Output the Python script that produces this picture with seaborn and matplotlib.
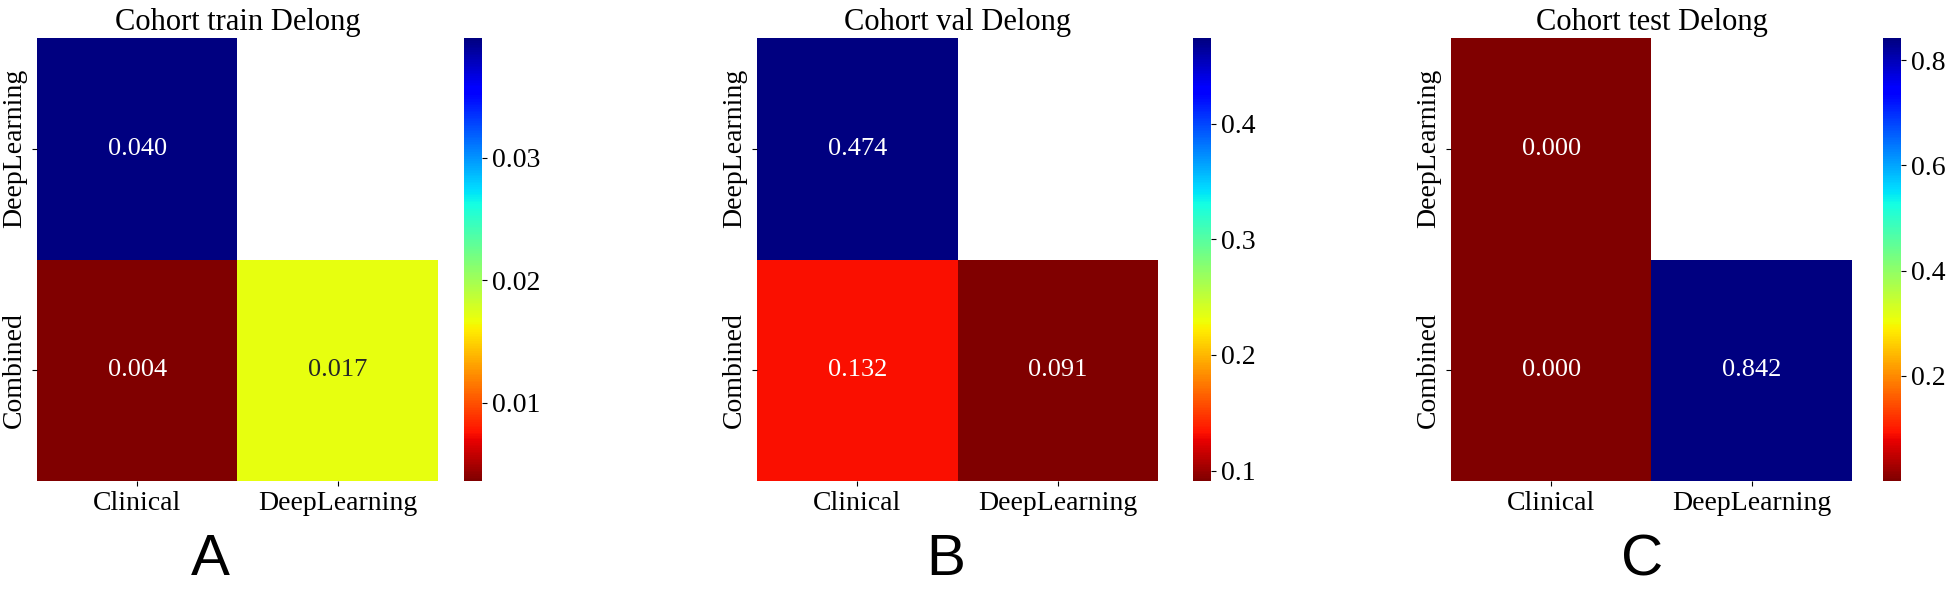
import numpy as np
import pandas as pd
import seaborn as sns
import matplotlib.pyplot as plt

# Delong test p-values between models, one matrix per cohort
row_models = ['DeepLearning', 'Combined']
col_models = ['Clinical', 'DeepLearning']
titles = ['Cohort train Delong', 'Cohort val Delong', 'Cohort test Delong']
letters = ['A', 'B', 'C']

train_p = [[0.0398, np.nan],
           [0.0036, 0.017]]
val_p = [[0.474, np.nan],
         [0.132, 0.091]]
test_p = [[0.0003, np.nan],
          [0.0002, 0.842]]

plt.rcParams['font.family'] = ['Liberation Serif', 'DejaVu Serif']

fig = plt.figure(figsize=(19.49, 5.91), dpi=100)

# panel positions in pixels (heatmap left, colorbar left, letter x)
W, H = 1949, 591
heat_left = [37, 757, 1451]
cbar_left = [464, 1193, 1883]
letter_x = [210, 946, 1642]
heat_w, cbar_w = 401, 18
top, bottom = 38, 481

for i, data in enumerate([train_p, val_p, test_p]):
    df = pd.DataFrame(data, index=row_models, columns=col_models)
    mask = np.triu(np.ones(df.shape, dtype=bool), k=1)

    ax = fig.add_axes([heat_left[i] / W, (H - bottom) / H,
                       heat_w / W, (bottom - top) / H])
    cax = fig.add_axes([cbar_left[i] / W, (H - bottom) / H,
                        cbar_w / W, (bottom - top) / H])

    sns.heatmap(df, mask=mask, annot=True, fmt='.3f', cmap='jet_r',
                ax=ax, cbar_ax=cax, annot_kws={'size': 19})

    ax.set_title(titles[i], fontsize=22, pad=6)
    ax.set_xticklabels(col_models, fontsize=20)
    ax.set_yticklabels(row_models, fontsize=20, rotation=90, va='center')
    cax.tick_params(labelsize=20)

    fig.text(letter_x[i] / W, 4 / H, letters[i], fontsize=42,
             family='Liberation Sans', ha='center', va='bottom')

fig.savefig('out.png', dpi=100)
